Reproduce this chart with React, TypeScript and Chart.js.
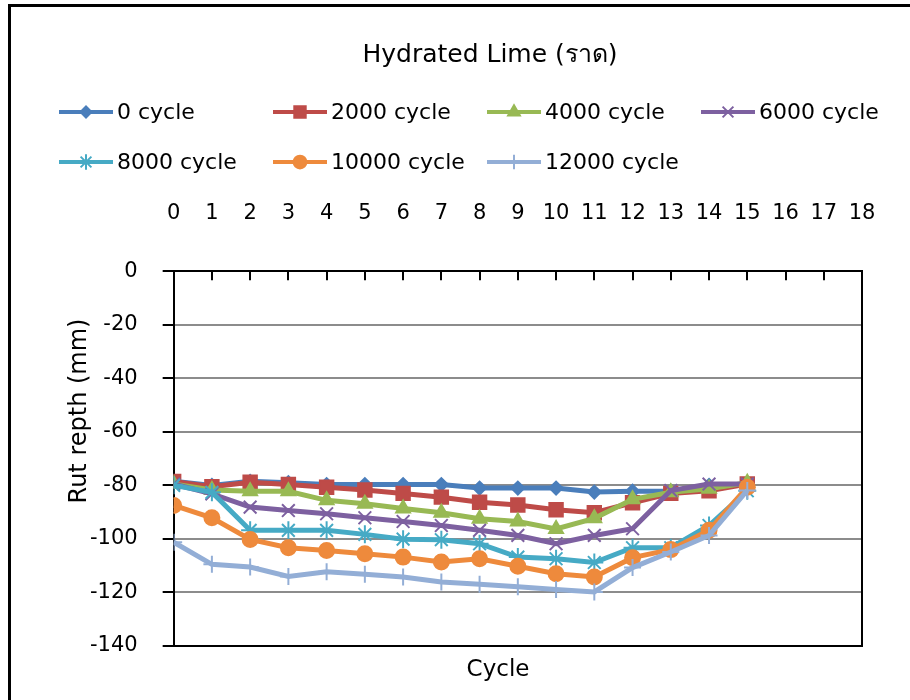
import React, { useEffect, useRef } from 'react';
import { Chart, registerables } from 'chart.js';
import { drawPoint } from 'chart.js/helpers';

Chart.register(...registerables);

const FONT = '"DejaVu Sans", "Liberation Sans", Arial, sans-serif';

const chartTitle = 'Hydrated Lime (ราด)';
const yAxisTitle = 'Rut repth (mm)';
const xAxisTitle = 'Cycle';

const cycles = [0, 1, 2, 3, 4, 5, 6, 7, 8, 9, 10, 11, 12, 13, 14, 15];
const xTickMin = 0;
const xTickMax = 18;
const yTickMin = -140;
const yTickMax = 0;
const yTickStep = 20;

const seriesNames = ['0 cycle', '2000 cycle', '4000 cycle', '6000 cycle', '8000 cycle', '10000 cycle', '12000 cycle'];

const cycle0 = [-78.5, -80, -78.5, -79, -79.7, -79.7, -79.7, -79.7, -81, -81, -81, -82.5, -82.2, -82.2, -80, -79.7];
const cycle2000 = [-78.5, -80.5, -78.8, -79.7, -80.7, -81.7, -83, -84.4, -86.3, -87.3, -89.1, -90.2, -86.5, -83, -82, -79.5];
const cycle4000 = [-79.5, -81.7, -82.2, -82.2, -85.6, -86.9, -88.6, -90.2, -92.5, -93.5, -96.3, -92.3, -85.2, -82.6, -81.3, -79];
const cycle6000 = [-79.5, -83.2, -88.1, -89.4, -90.6, -92.1, -93.5, -95, -96.8, -98.7, -101.8, -98.7, -96.2, -81.9, -79.5, -79.5];
const cycle8000 = [-80, -82.6, -96.8, -96.8, -96.8, -98.3, -100.1, -100.3, -101.8, -106.8, -107.4, -108.8, -103.3, -103.3, -95, -82];
const cycle10000 = [-87.5, -92.1, -100.2, -103.3, -104.3, -105.5, -106.8, -108.6, -107.4, -110.2, -113, -114.2, -107, -104, -96.8, -80.7];
const cycle12000 = [-101.2, -109.5, -110.5, -114, -112.3, -113.2, -114.2, -116.1, -116.9, -117.9, -118.9, -119.8, -110.7, -104.9, -98.7, -81.9];

const seriesValues = [cycle0, cycle2000, cycle4000, cycle6000, cycle8000, cycle10000, cycle12000];
const seriesColors = ['#4A7EBB', '#BE4B48', '#98B954', '#7D60A0', '#46AAC5', '#EE8A3C', '#93AED6'];
const seriesMarkers = ['rectRot', 'rect', 'triangle', 'crossRot', 'star', 'circle', 'cross'];
const markerSizes = [6.5, 9.5, 8, 9, 9, 7.5, 8.5];

const titlesAndLegend = {
  id: 'titlesAndLegend',
  afterDraw(chart: any) {
    const ctx = chart.ctx as CanvasRenderingContext2D;
    ctx.save();
    ctx.fillStyle = '#000';
    ctx.textAlign = 'center';
    ctx.textBaseline = 'middle';
    ctx.font = `25px ${FONT}`;
    ctx.fillText(chartTitle, 490, 55);
    ctx.font = `23px ${FONT}`;
    ctx.fillText(xAxisTitle, 498, 670);
    ctx.translate(80, 411);
    ctx.rotate(-Math.PI / 2);
    ctx.font = `24px ${FONT}`;
    ctx.fillText(yAxisTitle, 0, 0);
    ctx.restore();
    chart.data.datasets.forEach((ds: any, i: number) => {
      const col = i % 4;
      const row = Math.floor(i / 4);
      const x0 = 59 + col * 214;
      const y = 112 + row * 50;
      ctx.save();
      ctx.strokeStyle = ds.borderColor;
      ctx.lineWidth = 4;
      ctx.beginPath();
      ctx.moveTo(x0, y);
      ctx.lineTo(x0 + 54, y);
      ctx.stroke();
      ctx.fillStyle = ds.backgroundColor;
      ctx.strokeStyle = ds.borderColor;
      ctx.lineWidth = 2;
      drawPoint(ctx, { pointStyle: ds.pointStyle, rotation: 0, radius: ds.pointRadius * 0.85, borderWidth: 2 } as any, x0 + 27, y);
      ctx.fillStyle = '#000';
      ctx.font = `22px ${FONT}`;
      ctx.textBaseline = 'middle';
      ctx.textAlign = 'left';
      ctx.fillText(ds.label, x0 + 58, y + 1);
      ctx.restore();
    });
  },
};

const innerTicks = {
  id: 'innerTicks',
  beforeDatasetsDraw(chart: any) {
    const ctx = chart.ctx as CanvasRenderingContext2D;
    const xs = chart.scales.x;
    const top = chart.chartArea.top;
    ctx.save();
    ctx.strokeStyle = '#000';
    ctx.lineWidth = 2;
    xs.ticks.forEach((t: any) => {
      if (t.value <= xTickMin || t.value >= xTickMax) return;
      const px = Math.round(xs.getPixelForValue(t.value));
      ctx.beginPath();
      ctx.moveTo(px, top);
      ctx.lineTo(px, top + 9);
      ctx.stroke();
    });
    ctx.restore();
  },
};

export default function App() {
  const ref = useRef<HTMLCanvasElement | null>(null);

  useEffect(() => {
    document.body.style.margin = '0';
    const canvas = ref.current;
    if (!canvas) return;
    const datasets = seriesNames.map((name, i) => ({
      label: name,
      data: cycles.map((c, j) => ({ x: c, y: seriesValues[i][j] })),
      borderColor: seriesColors[i],
      backgroundColor: seriesColors[i],
      pointBackgroundColor: seriesColors[i],
      pointBorderColor: seriesColors[i],
      pointStyle: seriesMarkers[i],
      pointRadius: markerSizes[i],
      pointBorderWidth: 2,
      borderWidth: 5,
      tension: 0,
      xAxisID: 'x',
      yAxisID: 'y',
      order: seriesNames.length - i,
    }));

    const chart = new Chart(canvas, {
      type: 'line',
      data: { datasets },
      plugins: [titlesAndLegend, innerTicks],
      options: {
        responsive: false,
        animation: false,
        events: [],
        layout: { padding: { left: 65, right: 48, top: 156, bottom: 54 } },
        plugins: {
          legend: { display: false },
          tooltip: { enabled: false },
          title: { display: false },
        },
        scales: {
          x: {
            type: 'linear',
            position: 'top',
            min: xTickMin,
            max: xTickMax,
            ticks: { stepSize: 1, color: '#000', font: { family: FONT, size: 21 }, padding: 45, autoSkip: false, maxRotation: 0 },
            grid: { display: false, drawTicks: false },
            border: { display: true, color: '#000', width: 2 },
            afterFit: (scale: any) => {
              scale.paddingLeft = 0;
              scale.paddingRight = 0;
            },
          },
          x2: {
            type: 'linear',
            display: true,
            position: 'bottom',
            min: xTickMin,
            max: xTickMax,
            ticks: { display: false },
            grid: { display: false, drawTicks: false },
            border: { display: true, color: '#000', width: 2 },
          },
          y: {
            type: 'linear',
            position: 'left',
            min: yTickMin,
            max: yTickMax,
            ticks: { stepSize: yTickStep, color: '#000', font: { family: FONT, size: 21 }, padding: 25 },
            grid: {
              color: (c: any) => (c.tick && (c.tick.value === yTickMin || c.tick.value === yTickMax) ? 'rgba(0,0,0,0)' : '#8C8C8C'),
              lineWidth: 2,
              tickColor: '#000',
              tickLength: 11,
              drawTicks: true,
            },
            border: { display: true, color: '#000', width: 2 },
            afterFit: (scale: any) => {
              scale.paddingTop = 0;
              scale.paddingBottom = 0;
            },
          },
          y2: {
            type: 'linear',
            display: true,
            position: 'right',
            min: yTickMin,
            max: yTickMax,
            ticks: { display: false },
            grid: { display: false, drawTicks: false },
            border: { display: true, color: '#000', width: 2 },
          },
        },
      } as any,
    });
    return () => chart.destroy();
  }, []);

  return (
    <div style={{ position: 'relative', width: 910, height: 700, overflow: 'hidden', background: '#fff' }}>
      <div style={{ position: 'absolute', left: 8, top: 4, width: 920, height: 720, border: '3px solid #000', boxSizing: 'border-box' }} />
      <canvas ref={ref} width={910} height={700} style={{ position: 'absolute', left: 0, top: 0 }} />
    </div>
  );
}
